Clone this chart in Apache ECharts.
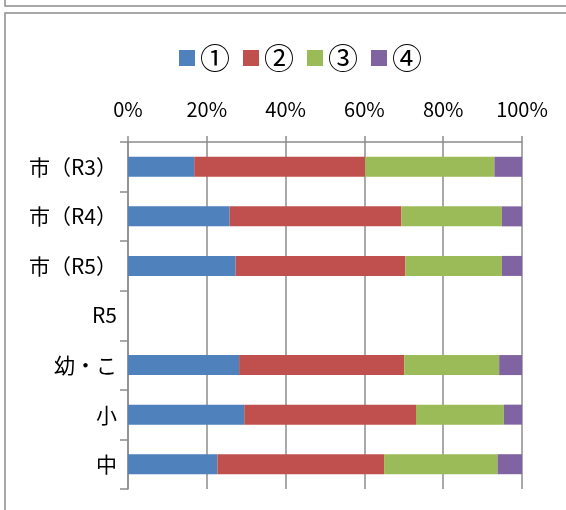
<!DOCTYPE html>
<html>
<head>
<meta charset="utf-8">
<script src="https://cdn.jsdelivr.net/npm/echarts@6/dist/echarts.min.js"></script>
<style>
  html, body { margin: 0; padding: 0; background: #fff; }
  #chart { width: 566px; height: 510px; }
</style>
</head>
<body>
<div id="chart"></div>
<script>
// rows top to bottom, values in percent
const categories = ['市（R3）', '市（R4）', '市（R5）', 'R5', '幼・こ', '小', '中'];
const seriesNames = ['①', '②', '③', '④'];
const s1 = [16.8, 25.8, 27.3, null, 28.2, 29.5, 22.7];
const s2 = [43.4, 43.6, 43.1, null, 41.9, 43.6, 42.3];
const s3 = [32.8, 25.5, 24.5, null, 24.1, 22.3, 28.8];
const s4 = [7.0, 5.1, 5.1, null, 5.8, 4.6, 6.2];
const colors = ['#4F81BD', '#C0504D', '#9BBB59', '#8064A2'];

const font = "'Noto Sans CJK JP', sans-serif";
const gray = '#8c8c8c';

let chart = echarts.init(document.getElementById('chart'));
let data = [s1, s2, s3, s4];

let option = {
  animation: false,
  color: colors,
  textStyle: { fontFamily: font },
  graphic: [
    { type: 'rect', shape: { x: 5, y: -20, width: 620, height: 26 }, style: { fill: 'none', stroke: gray, lineWidth: 1.5 } },
    { type: 'rect', shape: { x: 5, y: 13, width: 620, height: 620 }, style: { fill: 'none', stroke: gray, lineWidth: 1.5 } }
  ],
  legend: {
    top: 38,
    left: 174,
    itemWidth: 16,
    itemHeight: 16,
    itemGap: 13,
    icon: 'rect',
    textStyle: { fontSize: 30, color: '#000', fontFamily: font },
    data: seriesNames
  },
  grid: { left: 128, right: 44, top: 142, bottom: 21, containLabel: false },
  xAxis: {
    type: 'value',
    position: 'top',
    min: 0,
    max: 100,
    interval: 20,
    axisLine: { show: true, lineStyle: { color: gray, width: 1.5 } },
    axisTick: { show: true, length: 6, lineStyle: { color: gray, width: 1.5 } },
    axisLabel: { formatter: '{value}%', fontSize: 20, color: '#000', margin: 23, fontFamily: font },
    splitLine: { show: true, lineStyle: { color: gray, width: 1.5 } }
  },
  yAxis: {
    type: 'category',
    inverse: true,
    data: categories,
    axisLine: { show: true, lineStyle: { color: gray, width: 1.5 } },
    axisTick: { show: true, length: 8, interval: 0, lineStyle: { color: gray, width: 1.5 } },
    axisLabel: { fontSize: 21, color: '#000', margin: 11, fontFamily: font }
  },
  series: seriesNames.map(function (name, i) {
    return {
      name: name,
      type: 'bar',
      stack: 'total',
      barWidth: 20,
      data: data[i]
    };
  })
};
chart.setOption(option);
</script>
</body>
</html>
